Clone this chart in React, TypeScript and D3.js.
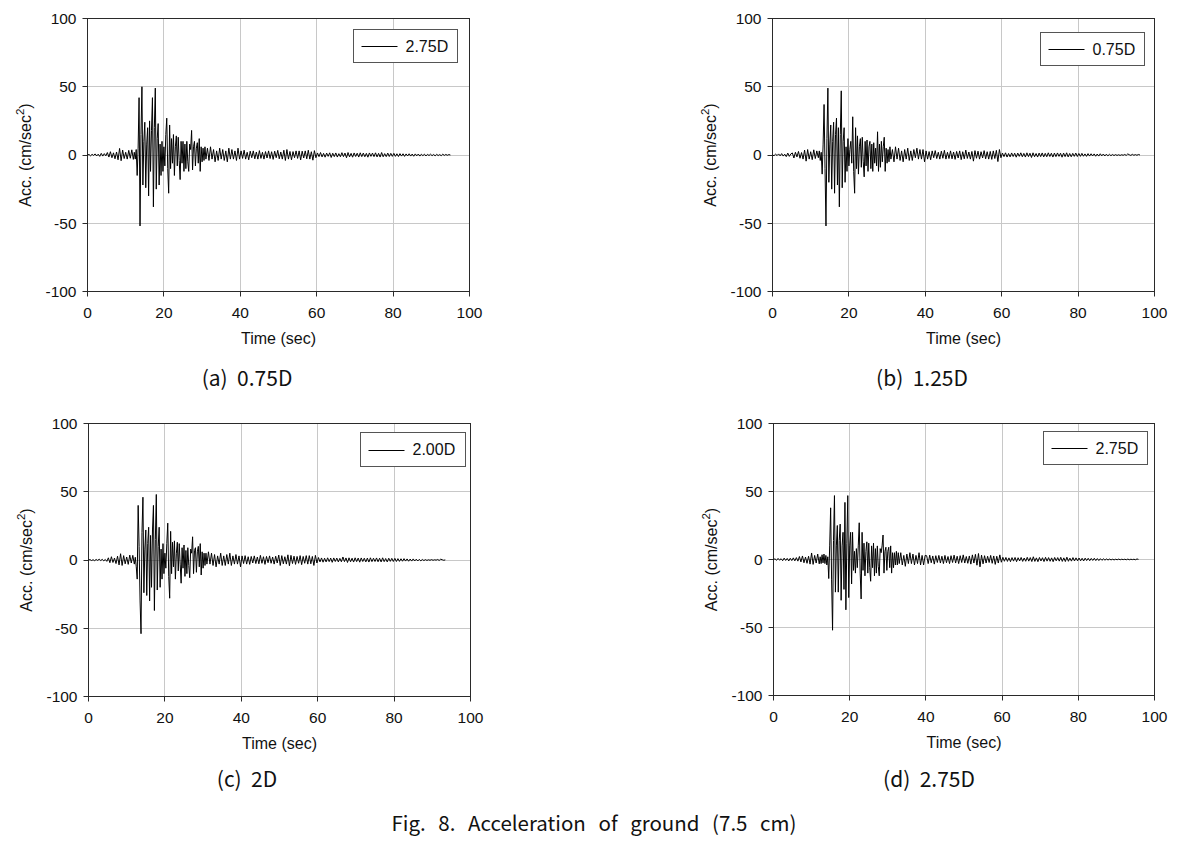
import React from 'react';
import * as d3 from 'd3';

// ---------- data ----------
const X_TICKS = [0, 20, 40, 60, 80, 100];
const Y_TICKS = [-100, -50, 0, 50, 100];
const X_DOMAIN = [0, 100];
const Y_DOMAIN = [-100, 100];
const DT_COARSE = 0.4; // s, pre-event and coda samples
const DT_FINE = 0.25; // s, strong-motion samples

// Panel (a)
const A_PRE = [0, 0.4, -0.6, 0.5, -0.3, 0.8, -0.7, 0.6, -1.0, 1.2, -0.8, 1.0, -0.6,
  1.8, -1.5, 2.4, -2.0, 1.6, -2.8, 2.2, -3.5, 4.8, -4.2, 3.6, -2.6, 2.0, -3.0, 3.4, -2.4, 3.8, -3.2];
const A_STRONG_T0 = 12.25;
const A_STRONG = [
  2, -3, 4, -15,
  5, 42, -52, 15,
  50, -22, 10, 24,
  -24, 8, 20, -30,
  25, -12, 18, 42,
  -38, 20, 49, -25,
  12, 23, -22, 8,
  -15, 10, -12, 6,
  -8, 15, 27, -10,
  -28, 22, -10, 12,
  -6, 15, -15, 6,
  14, -8, 13, -4,
  -18, 10, -6, 10,
  -12, 8, -10, 10,
  -5, -12, 8, 4,
  18, -11, 6, 10,
  -8, 5, 9, -6,
  12, -12, 6, -5,
  5, -4, 6, -3];
const A_TAIL_T0 = 31.4;
const A_TAIL = [
  5, -4, 6, -3, 4, -5, 3, -4, 5, -3, 4, -4, 3, -5, 5, -3, 4, -3, 3, -4, 5, -3,
  3, -2.5, 3.5, -3, 2, -3.5, 2.8, -2, 3, -2.8, 2.2, -3, 3.2, -2.5, 2, -3, 2.5, -2.2, 3, -2.6,
  2.4, -3.2, 2.8, -2, 3.4, -2.8, 2.2, -3, 3.5, -4, 4, -3, 2.6, -3.5, 2.5, -2, 3,
  -2.5, 3, -3.6, 2.8, -2.2, 3, -2.8, 3.5, -3, 2.4, -3.8, 3.2, -2,
  1.5, -1.2, 1.8, -1.4, 1.2, -1.6, 1.4, -1.0, 1.6, -1.8, 1.3, -1.2, 1.5, -1.5, 1.0, -1.3, 1.7,
  -1.2, 1.4, -2.0, 1.8, -1.4, 1.2, -1.6, 1.5, -1.1, 1.3, -1.5, 1.6, -1.2, 1.4, -1.3, 1.2, -1.6,
  1.5, -1.0, 1.4, -1.2, 1.6, -1.4, 1.2, -1.5, 1.8, -1.3, 1.0, -1.2, 1.4, -1.1, 1.2, -1.0,
  1.2, -1.0, 0.9, -1.1, 1.0, -0.8, 0.9, -1.0, 0.8, -0.7, 0.9, -0.8, 0.7, -0.9, 0.8, -0.6, 0.7,
  -0.8, 0.6, -0.5, 0.6, -0.7, 0.5, -0.4, 0.6, -0.5, 0.4, -0.6, 0.5, -0.4, 0.3, -0.5, 0.6, -0.3,
  0.4, -0.2, 0.3, 0.0];

// Panel (b)
const B_PRE = [0, -0.5, 0.6, -0.4, 0.8, -0.6, 1.0, -0.8, 0.6, -1.2, 1.4, -1.0, 0.8,
  1.5, -2.2, 2.0, -1.4, 2.6, -2.4, 1.8, -3.0, 3.6, -4.5, 4.0, -3.0, 2.4, -3.4, 3.8, -2.6, 3.0, -2.0];
const B_STRONG_T0 = 12.25;
const B_STRONG = [
  3, -4, 2, -14,
  8, 37, -10, -52,
  12, 49, -20, 8,
  22, -25, 10, 24,
  -28, 15, 27, -22,
  20, -38, 15, 47,
  -24, 10, 20, -20,
  6, -12, 12, -8,
  4, 10, -6, 28,
  -12, -28, 20, -10,
  14, -14, 6, 12,
  -9, 13, -5, -16,
  10, -8, 11, -12,
  6, 10, -10, 8,
  -12, 9, -6, 5,
  -8, 17, -12, 8,
  -9, 10, -5, 6,
  13, -12, 5, -6,
  4, -5, 6, -3];
const B_TAIL_T0 = 31.4;
const B_TAIL = [
  4, -5, 6, -3, 5, -4, 3, -5, 4, -3, 5, -4, 3, -4, 4, -2, 5, -3, 4, -3, 4, -5,
  3, -3, 2.5, -3.5, 3, -2, 3.2, -2.6, 2, -3, 2.8, -2.4, 3.4, -3, 2, -2.6, 3, -2.8, 2.2, -3.2,
  2.6, -2.2, 3, -3.4, 2.4, -2.8, 3.6, -2.5, 2.2, -3, 2.6, -4.5, 3.2, -2.4, 2.8, -3, 2.4,
  -2.2, 3.2, -2.8, 2.4, -3.0, 2.6, -3.2, 3.0, -2.6, 3.4, -4.8, 4.0, -2.0,
  1.4, -1.2, 1.6, -1.5, 1.1, -1.4, 1.5, -1.1, 1.3, -1.6, 1.4, -1.0, 1.6, -1.3, 1.2, -1.5, 1.6,
  -1.2, 1.3, -1.8, 1.6, -1.3, 1.1, -1.5, 1.4, -1.2, 1.5, -1.4, 1.2, -1.3, 1.6, -1.1, 1.3, -1.5,
  1.4, -1.2, 1.5, -1.0, 1.3, -1.6, 1.4, -1.2, 1.6, -1.4, 1.1, -1.3, 1.2, -1.0, 1.4, -1.1,
  1.1, -1.0, 1.2, -0.9, 0.8, -1.0, 1.0, -0.8, 0.9, -0.7, 0.8, -0.9, 0.7, -0.8, 0.9, -0.6, 0.7,
  -0.7, 0.6, -0.6, 0.5, -0.5, 0.4, -0.4, 0.3, -0.3, 0.2, -0.3, 0.2, -0.2, 0.4, -0.3, 0.8, 0.2,
  -0.3, 0.5, -0.2, 0.3, -0.2, 0.4, 0.0];

// Panel (c)
const C_PRE = [0, 0.3, -0.4, 0.2, -0.5, 0.4, -0.3, 0.6, -0.4, 0.5, -0.6, 0.4, -1.0,
  1.6, -2.0, 2.4, -1.8, 1.4, -2.6, 2.8, -3.6, 4.6, -4.0, 3.2, -2.8, 2.2, -3.2, 3.6, -2.2, 3.4, -3.0];
const C_STRONG_T0 = 12.25;
const C_STRONG = [
  2, -5, -14, 40,
  10, -30, -54, 20,
  46, -24, 8, 22,
  -26, 12, 24, -30,
  18, -20, 22, 40,
  -37, 15, 48, -22,
  10, 24, -20, 8,
  -14, 12, -10, 5,
  -6, 12, 27, -12,
  -28, 21, -10, 13,
  -5, 14, -14, 5,
  13, -8, 12, -3,
  -17, 9, -6, 11,
  -12, 7, -10, 9,
  -4, -13, 8, 5,
  17, -10, 7, 9,
  -9, 6, 10, -5,
  12, -11, 6, -6,
  5, -4, 5, -3];
const C_TAIL_T0 = 31.4;
const C_TAIL = [
  6, -3, 5, -4, 4, -5, 3, -3, 5, -4, 3, -4, 4, -3, 5, -4, 3, -3, 4, -3, 3, -5,
  3, -2.6, 3.2, -3, 2.4, -3.2, 2.6, -2.2, 3, -2.6, 2.2, -2.8, 3.4, -2.4, 2.4, -3.2, 2.6, -2, 3,
  -2.4, 2.2, -3, 2.8, -2.2, 3.6, -4, 3.2, -2.8, 2.4, -3, 3.8, -4.2, 3.4, -2.6, 2.8, -3.2, 2.6,
  -2.4, 3.2, -3.4, 2.6, -2.4, 3.2, -3.0, 3.2, -2.8, 2.6, -4.0, 3.4, -2.2,
  1.8, -1.4, 1.5, -1.6, 1.3, -1.4, 1.6, -1.2, 1.4, -1.7, 1.5, -1.1, 1.4, -1.4, 1.2, -1.3, 2.2,
  -1.2, 1.5, -1.8, 1.6, -1.3, 1.3, -1.5, 1.6, -1.2, 1.4, -1.6, 1.5, -1.1, 1.3, -1.4, 1.4, -1.5,
  1.6, -1.2, 1.3, -1.1, 1.5, -1.3, 1.3, -1.4, 1.6, -1.2, 1.1, -1.4, 1.3, -1.0, 1.2, -1.1,
  1.2, -1.1, 1.0, -1.0, 0.9, -0.9, 1.0, -0.8, 0.8, -0.9, 0.7, -0.8, 0.8, -0.7, 0.6, -0.7, 0.5,
  -0.6, 0.4, -0.4, 0.3, -0.3, 0.2, -0.2, 0.3, -0.2, 0.2, -0.1, 0.4, -0.3, 0.6, 0.2, -0.2, 0.1];

// Panel (d)
const D_PRE = [0, 0.5, -0.6, 0.8, -0.5, 0.6, -0.9, 1.0, -0.7, 0.8, -1.1, 0.9, -0.8,
  1.2, -1.0, 1.4, -1.2, 2.2, -1.8, 2.6, -2.4, 1.8, -2.8, 2.4, -3.4, 4.8, -3.6, 3.0, -2.6, 4.0, -3.2];
const D_STRONG_T0 = 12.25;
const D_STRONG = [
  2, -3, 3.5, -2.5,
  4, -3, 3, -4,
  2, -14, 10, 38,
  -15, -52, 14, 47,
  -24, 10, 25, -24,
  14, 26, -30, 10,
  20, -22, 42, -37,
  12, 47, -28, 10,
  20, -18, 20, -8,
  6, -10, 8, -6,
  10, 27, -10, -29,
  20, -8, 12, -12,
  6, 13, -10, 12,
  -6, -16, 10, -6,
  12, -12, 8, -10,
  10, -5, -12, 8,
  5, 10, 18, -10,
  6, 9, -8, 6,
  9, -6, 10, -10,
  5, -6, 5, -4,
  6, -4, 5, -3];
const D_TAIL_T0 = 33.4;
const D_TAIL = [
  5, -4, 3, -5, 4, -3, 5, -3, 4, -4, 3, -3, 5, -4, 3, -4, 3,
  2.8, -3, 3.2, -2.4, 2.6, -3.4, 2.8, -2.2, 3, -2.6, 2.4, -3, 3, -2.4, 2.2, -3, 2.8, -2.2, 3.2,
  -2.6, 2.4, -3, 2.8, -2.2, 3.4, -2.6, 2.2, -2.8, 2.6, -3.4, 3.4, -2.6, 3.8, -4.2, 4.4, -5.4, 3.2,
  -3.2, 2.8, -2.6, 2.4, -2.2, 3, -2.8, 2.6, -3.6, 2.4, -2.6, 3.4, -2.0,
  1.6, -1.3, 1.5, -1.4, 1.2, -1.6, 1.4, -1.2, 1.5, -1.6, 1.3, -1.1, 1.5, -1.4, 1.1, -1.3, 1.6,
  -1.2, 1.4, -1.5, 2.0, -1.4, 1.2, -1.6, 1.5, -1.1, 1.3, -1.5, 1.6, -1.2, 1.4, -1.3, 1.2, -1.6,
  1.5, -1.0, 1.4, -1.2, 1.6, -1.4, 1.2, -1.5, 1.7, -1.3, 1.0, -1.2, 1.4, -1.1, 1.2, -1.0,
  1.1, -1.0, 0.9, -1.1, 1.0, -0.8, 0.9, -0.9, 0.8, -0.7, 0.9, -0.8, 0.7, -0.8, 0.6, -0.6, 0.5,
  -0.5, 0.4, -0.4, 0.3, -0.3, 0.2, -0.3, 0.2, -0.2, 0.3, -0.2, 0.2, -0.1, 0.2, -0.2, 0.3, -0.2,
  0.2, -0.1, 0.2, -0.2, 0.4, 0.1];

const LEGEND_LABELS = ['2.75D', '0.75D', '2.00D', '2.75D'];
const CAPTIONS = ['(a)  0.75D', '(b)  1.25D', '(c)  2D', '(d)  2.75D'];
const X_TITLE = 'Time (sec)';
const Y_TITLE = 'Acc. (cm/sec';
const FIG_CAPTION = 'Fig. 8. Acceleration of ground (7.5 cm)';

// ---------- layout ----------
const LAYOUT = [
  { left: 87.5, top: 18.5, w: 382, h: 273, lg: { x: 353.5, y: 29.5, w: 104, h: 33 }, cap: { x: 247, y: 386 } },
  { left: 772.5, top: 18.5, w: 382, h: 273, lg: { x: 1040.5, y: 32.5, w: 104, h: 33 }, cap: { x: 922, y: 386 } },
  { left: 88.5, top: 423.5, w: 382, h: 273, lg: { x: 360.5, y: 432.5, w: 105, h: 34 }, cap: { x: 247, y: 787 } },
  { left: 773.5, top: 423.5, w: 381, h: 272, lg: { x: 1043.5, y: 431.5, w: 104, h: 33 }, cap: { x: 929, y: 787 } },
];

const AX_FONT = '"Liberation Sans", Arial, sans-serif';
const CAP_FONT = '"Noto Sans CJK KR", "Noto Sans", sans-serif';

function buildSeries(pre: number[], strong: number[], strongT0: number, tail: number[], tailT0: number) {
  const pts: [number, number][] = [];
  pre.forEach((v, i) => pts.push([i * DT_COARSE, v]));
  strong.forEach((v, i) => pts.push([strongT0 + i * DT_FINE, v]));
  tail.forEach((v, i) => pts.push([tailT0 + i * DT_COARSE, v]));
  return pts;
}

const SERIES = [
  buildSeries(A_PRE, A_STRONG, A_STRONG_T0, A_TAIL, A_TAIL_T0),
  buildSeries(B_PRE, B_STRONG, B_STRONG_T0, B_TAIL, B_TAIL_T0),
  buildSeries(C_PRE, C_STRONG, C_STRONG_T0, C_TAIL, C_TAIL_T0),
  buildSeries(D_PRE, D_STRONG, D_STRONG_T0, D_TAIL, D_TAIL_T0),
];

function Panel({ idx }: { idx: number }) {
  const L = LAYOUT[idx];
  const x = d3.scaleLinear().domain(X_DOMAIN).range([L.left, L.left + L.w]);
  const y = d3.scaleLinear().domain(Y_DOMAIN).range([L.top + L.h, L.top]);
  const line = d3.line<[number, number]>().x(d => x(d[0])).y(d => y(d[1]));
  const bottom = L.top + L.h;
  const right = L.left + L.w;
  const cx = (L.left + right) / 2;
  const cy = (L.top + bottom) / 2;
  const snap = (v: number) => Math.round(v - 0.5) + 0.5;
  return (
    <g>
      {/* grid */}
      {X_TICKS.slice(1, -1).map(t => (
        <line key={'gx' + t} x1={snap(x(t))} x2={snap(x(t))} y1={L.top} y2={bottom} stroke="#c8c8c8" strokeWidth={1} />
      ))}
      {Y_TICKS.slice(1, -1).map(t => (
        <line key={'gy' + t} x1={L.left} x2={right} y1={snap(y(t))} y2={snap(y(t))} stroke="#c8c8c8" strokeWidth={1} />
      ))}
      {/* frame */}
      <rect x={L.left} y={L.top} width={L.w} height={L.h} fill="none" stroke="#2a2a2a" strokeWidth={1} />
      {/* ticks */}
      {X_TICKS.map(t => (
        <g key={'xt' + t}>
          <line x1={snap(x(t))} x2={snap(x(t))} y1={bottom} y2={bottom + 5} stroke="#2a2a2a" />
          <text x={x(t)} y={bottom + 26} textAnchor="middle" fontFamily={AX_FONT} fontSize={15.5} fill="#111">{t}</text>
        </g>
      ))}
      {Y_TICKS.map(t => (
        <g key={'yt' + t}>
          <line x1={L.left - 5} x2={L.left} y1={snap(y(t))} y2={snap(y(t))} stroke="#2a2a2a" />
          <text x={L.left - 11} y={y(t)} dy="0.35em" textAnchor="end" fontFamily={AX_FONT} fontSize={15.5} fill="#111">{t}</text>
        </g>
      ))}
      {/* signal */}
      <path d={line(SERIES[idx]) || ''} fill="none" stroke="#000" strokeWidth={1} strokeLinejoin="round" />
      {/* axis titles */}
      <text x={cx} y={bottom + 52} textAnchor="middle" fontFamily={AX_FONT} fontSize={16} fill="#111">{X_TITLE}</text>
      <text transform={`translate(${L.left - 57},${cy}) rotate(-90)`} textAnchor="middle" fontFamily={AX_FONT} fontSize={16} fill="#111">
        {Y_TITLE}<tspan dy={-7} fontSize={11.5}>2</tspan><tspan dy={7}>)</tspan>
      </text>
      {/* legend */}
      <rect x={L.lg.x} y={L.lg.y} width={L.lg.w} height={L.lg.h} fill="#fff" stroke="#555" strokeWidth={1} />
      <line x1={L.lg.x + 8} x2={L.lg.x + 44} y1={Math.round(L.lg.y + L.lg.h / 2) + 0.5} y2={Math.round(L.lg.y + L.lg.h / 2) + 0.5} stroke="#000" strokeWidth={1} />
      <text x={L.lg.x + 52} y={L.lg.y + L.lg.h / 2} dy="0.35em" fontFamily={AX_FONT} fontSize={16} fill="#111">{LEGEND_LABELS[idx]}</text>
      {/* caption */}
      <text x={L.cap.x} y={L.cap.y} textAnchor="middle" fontFamily={CAP_FONT} fontSize={21} fill="#111" style={{ whiteSpace: 'pre' }}>{CAPTIONS[idx]}</text>
    </g>
  );
}

export default function App() {
  return (
    <svg width={1187} height={847} style={{ position: 'absolute', left: 0, top: 0, background: '#fff' }}>
      <rect x={0} y={0} width={1187} height={847} fill="#fff" />
      {[0, 1, 2, 3].map(i => <Panel key={i} idx={i} />)}
      <text x={594} y={831} textAnchor="middle" fontFamily={CAP_FONT} fontSize={20.5} wordSpacing={8} fill="#111">{FIG_CAPTION}</text>
    </svg>
  );
}
